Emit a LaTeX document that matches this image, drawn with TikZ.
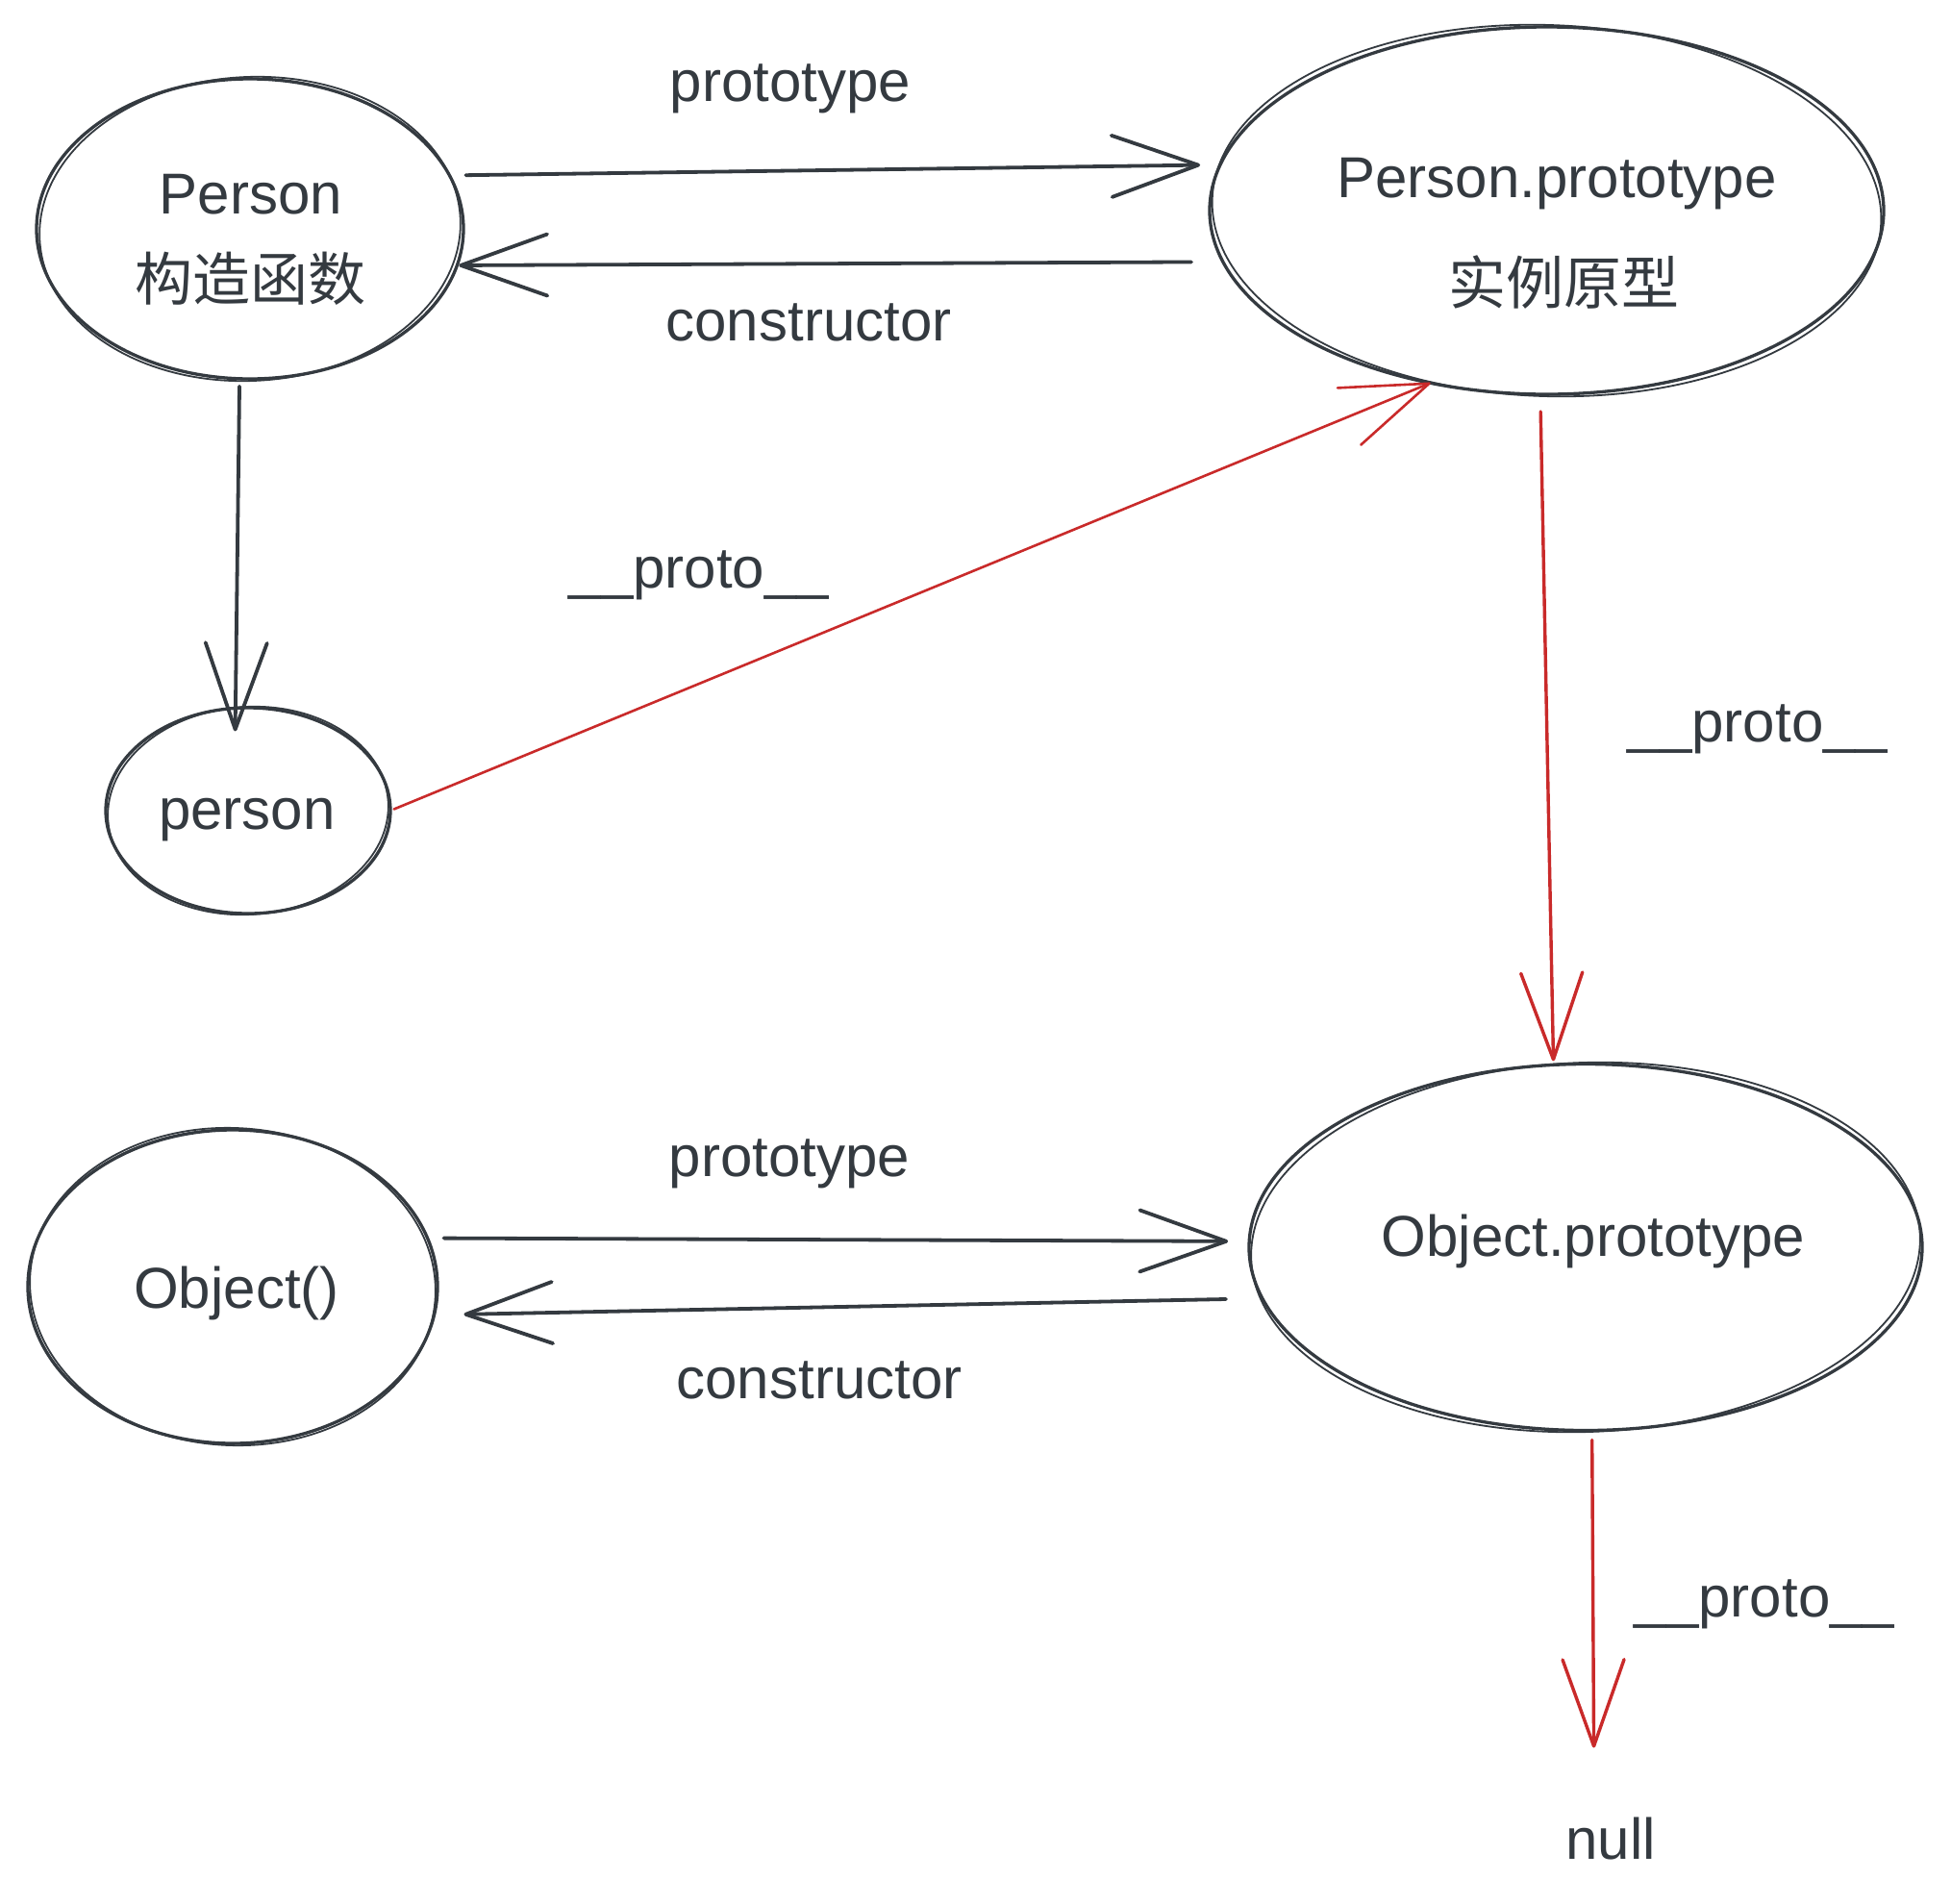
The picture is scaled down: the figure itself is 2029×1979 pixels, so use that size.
\documentclass[tikz,border=0pt]{standalone}
\usepackage{fontspec}
\setmainfont{Liberation Sans}
\newfontfamily\cjkfont{Noto Sans CJK SC}
\usetikzlibrary{shapes.geometric,arrows.meta}
\definecolor{dk}{HTML}{343A40}
\definecolor{rd}{HTML}{C92A2A}
\begin{document}
\begin{tikzpicture}[x=1pt,y=-1pt,
  ell/.style={ellipse, draw=dk, line width=3.3pt, inner sep=0pt, outer sep=0pt},
  sk/.style={draw=dk, line width=1.8pt},
  lbl/.style={anchor=base, inner sep=0pt, outer sep=0pt, text=dk, font=\fontsize{60pt}{72pt}\selectfont},
  cjk/.style={lbl, font=\fontsize{60pt}{72pt}\selectfont\cjkfont},
  conn/.style={line width=3.8pt, line cap=round, -{Straight Barb[length=90pt,width=64pt,round]}},
  dkc/.style={conn, draw=dk},
  rdc/.style={conn, draw=rd, line width=3.4pt}]
\useasboundingbox (0,0) rectangle (2029,1979);
\fill[white] (0,0) rectangle (2029,1979);

% ellipses
\node[ell, minimum width=444pt, minimum height=312pt] (P) at (260,238) {};
\node[ell, minimum width=701pt, minimum height=382pt] (PP) at (1608.5,219) {};
\node[ell, minimum width=296pt, minimum height=214pt] (pe) at (258,843) {};
\node[ell, minimum width=426pt, minimum height=326pt] (O) at (242,1338) {};
\node[ell, minimum width=700pt, minimum height=381pt] (OP) at (1649,1297) {};

% second sketch strokes
\draw[sk, rotate around={3:(260,238)}] (260,238) ellipse [x radius=219, y radius=158];
\draw[sk, rotate around={-2:(1608.5,219)}] (1608.5,219) ellipse [x radius=348, y radius=193];
\draw[sk, rotate around={4:(258,843)}] (258,843) ellipse [x radius=146, y radius=108];
\draw[sk, rotate around={-3:(242,1338)}] (242,1338) ellipse [x radius=211, y radius=165];
\draw[sk, rotate around={2:(1649,1297)}] (1649,1297) ellipse [x radius=348, y radius=192];

% texts in ellipses
\node[lbl] (tP) at (261,222) {Person};
\node[cjk] (tP2) at (260,312) {构造函数};
\node[lbl] (tPP) at (1619,205) {Person.prototype};
\node[cjk] (tPP2) at (1626,316) {实例原型};
\node[lbl] (tpe) at (257,862) {person};
\node[lbl] (tO) at (246,1360) {Object()};
\node[lbl] (tOP) at (1657,1306) {Object.prototype};
\node[lbl] (nul) at (1675,1933) {null};

% connector labels
\node[lbl] (l1) at (822,105) {prototype};
\node[lbl] (l2) at (841,354) {constructor};
\node[lbl] (l3) at (727,611) {\_\_proto\_\_};
\node[lbl] (l4) at (1828,771) {\_\_proto\_\_};
\node[lbl] (l5) at (821,1223) {prototype};
\node[lbl] (l6) at (852,1454) {constructor};
\node[lbl] (l7) at (1835,1681) {\_\_proto\_\_};

% connectors
\draw[dkc, shorten <=17pt, shorten >=21pt] (P.15) -- (PP.172);
\draw[dkc, shorten <=33pt, shorten >=2pt] (PP.189) -- (P.350);
\draw[dkc, shorten <=8pt, shorten >=-24pt] (P.266) -- (pe.97);
\draw[rdc, line width=2.6pt, shorten <=4pt] (pe.0) -- (PP.236);
\draw[rdc, shorten <=18pt, shorten >=4pt] (PP.268) -- (OP.100);
\draw[rdc, shorten <=10pt, shorten >=72pt] (OP.272) -- ([xshift=-17pt]nul.north);
\draw[dkc, shorten <=17pt, shorten >=22pt] (O.14) -- (OP.179);
\draw[dkc, shorten <=38pt, shorten >=31pt] (OP.189) -- (O.352);
\end{tikzpicture}
\end{document}
